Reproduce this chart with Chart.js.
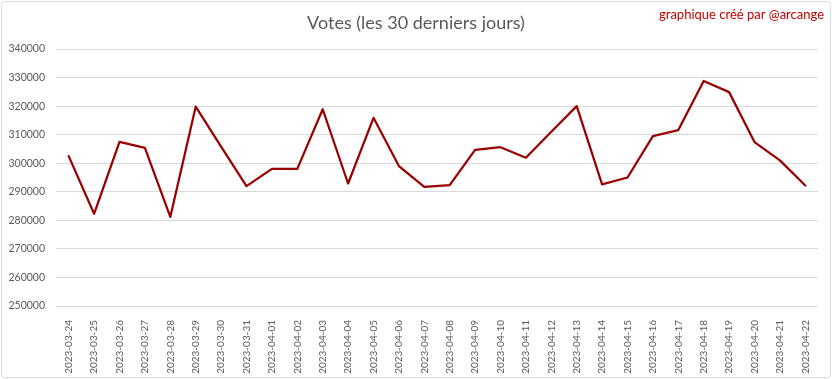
<!DOCTYPE html>
<html><head><meta charset="utf-8">
<script src="https://cdn.jsdelivr.net/npm/chart.js@4/dist/chart.umd.min.js"></script>
<style>html,body{margin:0;padding:0;background:#fff}#wrap{position:relative;width:832px;height:379px}</style>
</head><body><div id="wrap"><canvas id="c" width="832" height="379"></canvas></div>
<script>
const dates = ["2023-03-24","2023-03-25","2023-03-26","2023-03-27","2023-03-28","2023-03-29","2023-03-30","2023-03-31","2023-04-01","2023-04-02","2023-04-03","2023-04-04","2023-04-05","2023-04-06","2023-04-07","2023-04-08","2023-04-09","2023-04-10","2023-04-11","2023-04-12","2023-04-13","2023-04-14","2023-04-15","2023-04-16","2023-04-17","2023-04-18","2023-04-19","2023-04-20","2023-04-21","2023-04-22"];
const votes = [302500,282300,307500,305400,281200,319800,305800,292000,298000,298000,318900,292900,315900,299000,291700,292300,304700,305600,301900,311000,320000,292600,295000,309500,311600,328800,324900,307400,301000,292200];
const yTicks = [250000,260000,270000,280000,290000,300000,310000,320000,330000,340000];
const titleText = "Votes (les 30 derniers jours)";
const creditText = "graphique créé par @arcange";

const deco = {
  id:'deco',
  beforeDraw(chart){
    const ctx = chart.ctx;
    ctx.save();
    ctx.fillStyle = '#fff';
    ctx.fillRect(0,0,chart.width,chart.height);
    ctx.strokeStyle = '#d9d9d9';
    ctx.lineWidth = 1;
    ctx.beginPath();
    if (ctx.roundRect) ctx.roundRect(1.5,1.5,chart.width-3,chart.height-3,3); else ctx.rect(1.5,1.5,chart.width-3,chart.height-3);
    ctx.stroke();
    ctx.restore();
  },
  afterDraw(chart){
    const ctx = chart.ctx;
    ctx.save();
    ctx.fillStyle = '#595959';
    ctx.font = '18px Lato';
    ctx.textAlign = 'center';
    ctx.textBaseline = 'middle';
    ctx.fillText(titleText, 416, 23);
    ctx.fillStyle = '#c00000';
    ctx.font = '13px Lato';
    ctx.textAlign = 'right';
    ctx.fillText(creditText, 824, 15);
    ctx.restore();
  }
};

new Chart(document.getElementById('c'), {
  type:'line',
  data:{labels:dates, datasets:[{data:votes, borderColor:'#990000', borderWidth:2.25, pointRadius:0, tension:0, fill:false, borderJoinStyle:'round', borderCapStyle:'round'}]},
  options:{
    responsive:false, animation:false, devicePixelRatio:1,
    layout:{padding:{top:49,right:14,bottom:0,left:0}},
    plugins:{legend:{display:false}, tooltip:{enabled:false}, title:{display:false}},
    scales:{
      x:{offset:true, grid:{display:false}, border:{display:false},
         ticks:{color:'#595959', font:{family:'Lato', size:10}, minRotation:90, maxRotation:90, padding:6, autoSkip:false},
         afterFit(s){s.height = 73;}},
      y:{min:250000, max:340000, afterBuildTicks(s){s.ticks = yTicks.map(v=>({value:v}));},
         grid:{color:'#d9d9d9', lineWidth:1, drawTicks:false}, border:{display:false},
         ticks:{color:'#595959', font:{family:'Lato', size:10.5}, padding:11, callback:(v)=>String(v)},
         afterFit(s){s.width = 56;}}
    }
  },
  plugins:[deco]
});
</script></body></html>
